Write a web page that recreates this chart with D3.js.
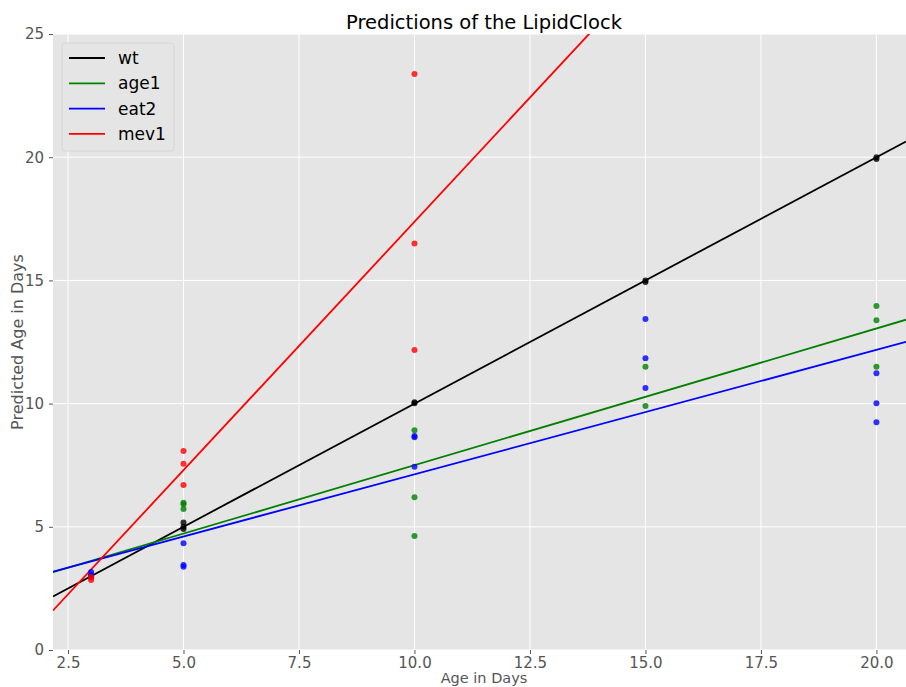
<!DOCTYPE html>
<html><head><meta charset="utf-8">
<script src="https://cdn.jsdelivr.net/npm/d3@7"></script>
<style>body{margin:0;background:#fff;}svg{display:block;font-family:"DejaVu Sans",sans-serif;}</style>
</head><body>
<svg id="c" width="906" height="687"></svg>
<script>
const seriesNames = ["wt", "age1", "eat2", "mev1"];
const seriesColors = ["#000000", "#008000", "#0000ff", "#ff0000"];
// fitted lines: slope, intercept
const lineSlopes = [1.0, 0.555, 0.505, 2.016];
const lineIntercepts = [0.0, 1.95, 2.08, -2.78];
// scatter points [day, predicted]
const wtPoints = [[3,2.95],[3,3.0],[5,5.17],[5,5.0],[5,4.91],[10,10.01],[10,10.05],[15,14.93],[15,15.0],[20,20.0],[20,19.93]];
const age1Points = [[3,3.0],[5,5.98],[5,5.92],[5,5.72],[10,8.92],[10,6.2],[10,4.63],[15,11.5],[15,9.9],[20,13.96],[20,13.38],[20,11.5]];
const eat2Points = [[3,3.17],[3,3.04],[5,4.33],[5,3.45],[5,3.38],[10,8.68],[10,8.63],[10,7.44],[15,13.43],[15,11.84],[15,10.63],[20,11.23],[20,10.01],[20,9.24]];
const mev1Points = [[3,2.96],[3,2.84],[5,8.08],[5,7.56],[5,6.7],[10,23.38],[10,16.5],[10,12.18]];
const xTicks = [2.5, 5.0, 7.5, 10.0, 12.5, 15.0, 17.5, 20.0];
const yTicks = [0, 5, 10, 15, 20, 25];

const allPoints = [wtPoints, age1Points, eat2Points, mev1Points];
const L = 53, T = 34, B = 650;
const x = d3.scaleLinear().domain([2.175, 20.64]).range([L, 906]);
const y = d3.scaleLinear().domain([0, 25]).range([B, T]);
const svg = d3.select("#c");

svg.append("rect").attr("x", L).attr("y", T).attr("width", 906 - L).attr("height", B - T).attr("fill", "#e5e5e5");
// grid
svg.append("g").selectAll("line").data(xTicks).join("line")
  .attr("x1", d => x(d)).attr("x2", d => x(d)).attr("y1", T).attr("y2", B)
  .attr("stroke", "#fff").attr("stroke-width", 1);
svg.append("g").selectAll("line").data(yTicks).join("line")
  .attr("x1", L).attr("x2", 906).attr("y1", d => y(d)).attr("y2", d => y(d))
  .attr("stroke", "#fff").attr("stroke-width", 1);

// axes
const xa = svg.append("g").attr("transform", `translate(0,${B})`)
  .call(d3.axisBottom(x).tickValues(xTicks).tickFormat(d3.format(".1f")).tickSize(4).tickPadding(3));
const ya = svg.append("g").attr("transform", `translate(${L},0)`)
  .call(d3.axisLeft(y).tickValues(yTicks).tickFormat(d3.format("d")).tickSize(4).tickPadding(5));
[xa, ya].forEach(a => {
  a.select(".domain").remove();
  a.selectAll(".tick line").attr("stroke", "#555");
  a.selectAll(".tick text").attr("fill", "#555").style("font-size", "15px").style("font-family", "DejaVu Sans");
});

svg.append("clipPath").attr("id", "pc").append("rect")
  .attr("x", L).attr("y", T).attr("width", 906 - L).attr("height", B - T);
const plot = svg.append("g").attr("clip-path", "url(#pc)");

// lines
const [x0, x1] = x.domain();
seriesNames.forEach((n, i) => {
  const f = v => lineSlopes[i] * v + lineIntercepts[i];
  plot.append("line")
    .attr("x1", x(x0)).attr("y1", y(f(x0)))
    .attr("x2", x(x1)).attr("y2", y(f(x1)))
    .attr("stroke", seriesColors[i]).attr("stroke-width", 1.8);
});
// points
seriesNames.forEach((n, i) => {
  plot.append("g").selectAll("circle").data(allPoints[i]).join("circle")
    .attr("cx", d => x(d[0])).attr("cy", d => y(d[1])).attr("r", 3)
    .attr("fill", seriesColors[i]).attr("fill-opacity", 0.8);
});

// title & labels
svg.append("text").attr("x", 484).attr("y", 29).attr("text-anchor", "middle")
  .style("font-size", "19.5px").attr("fill", "#000").text("Predictions of the LipidClock");
svg.append("text").attr("x", 484).attr("y", 683).attr("text-anchor", "middle")
  .style("font-size", "14.5px").attr("fill", "#555").text("Age in Days");
svg.append("text").attr("transform", "translate(23,342) rotate(-90)").attr("text-anchor", "middle")
  .style("font-size", "16px").attr("fill", "#555").text("Predicted Age in Days");

// legend
const lg = svg.append("g");
lg.append("rect").attr("x", 62).attr("y", 43).attr("width", 112).attr("height", 108).attr("rx", 3)
  .attr("fill", "#e5e5e5").attr("stroke", "#d6d6d6").attr("stroke-width", 1);
seriesNames.forEach((n, i) => {
  const yy = 58 + i * 25.3;
  lg.append("line").attr("x1", 69).attr("x2", 105).attr("y1", yy).attr("y2", yy)
    .attr("stroke", seriesColors[i]).attr("stroke-width", 1.8);
  lg.append("text").attr("x", 118).attr("y", yy + 6).style("font-size", "17px").attr("fill", "#000").text(n);
});
</script>
</body></html>
